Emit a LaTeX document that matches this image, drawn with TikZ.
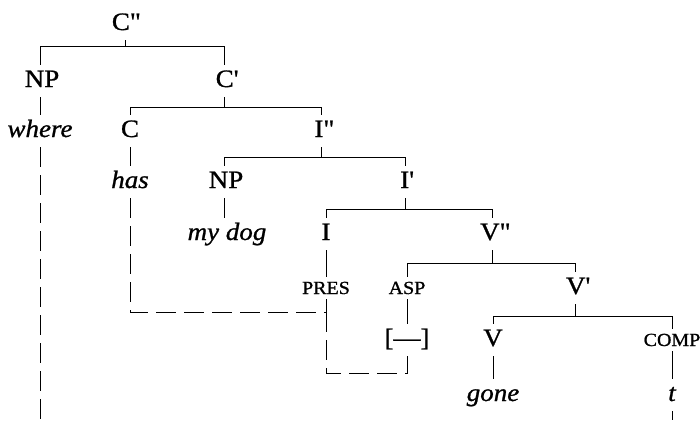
\documentclass[tikz,border=0pt]{standalone}
\usepackage{fontspec}
\setmainfont{Liberation Serif}[FakeBold=1,FakeStretch=1.08]
\begin{document}
\begin{tikzpicture}[x=1pt,y=-1pt,
  lab/.style={anchor=base,inner xsep=1pt,inner ysep=3pt,text height=19pt,text depth=7pt,font=\fontsize{25}{29}\selectfont},
  wrd/.style={lab,font=\fontsize{25}{29}\selectfont\itshape},
  sml/.style={anchor=base,inner xsep=1pt,inner ysep=2pt,text height=15pt,text depth=3pt,font=\fontsize{18.5}{22}\selectfont},
  edge/.style={line width=1pt},
  trace/.style={line width=1pt,dash pattern=on 20pt off 8pt}]
\useasboundingbox (0,0) rectangle (700,420);
\fill[white] (0,0) rectangle (700,420);
% nodes
\node[lab] (Cpp) at (126,30) {C\textquotedbl};
\node[lab] (NP1) at (42,87) {NP};
\node[lab] (Cp) at (227,87) {C\textquotesingle};
\node[wrd] (where) at (40,137) {where};
\node[lab] (C) at (130,137) {C};
\node[lab] (Ipp) at (324,137) {I\textquotedbl};
\node[wrd] (has) at (130,188) {has};
\node[lab] (NP2) at (226,188) {NP};
\node[lab] (Ip) at (407,188) {I\textquotesingle};
\node[wrd] (mydog) at (227,240) {my dog};
\node[lab] (I) at (326,240) {I};
\node[lab] (Vpp) at (495,240) {V\textquotedbl};
\node[sml] (PRES) at (326,294) {PRES};
\node[sml] (ASP) at (407,294) {ASP};
\node[lab] (Vp) at (578,294) {V\textquotesingle};
\node[lab] (brk) at (407,346) {[—]};
\node[lab] (V) at (493,346) {V};
\node[sml] (COMP) at (672,346) {COMP};
\node[wrd] (gone) at (493,401) {gone};
\node[wrd] (t) at (672,401) {t};
% bar coordinates
\coordinate (b1) at (0,47);
\coordinate (b2) at (0,107);
\coordinate (b3) at (0,157);
\coordinate (b4) at (0,209);
\coordinate (b5) at (0,263);
\coordinate (b6) at (0,316);
\coordinate (jh) at (0,312);
\coordinate (jb) at (0,373);
% branchings
\draw[edge] (Cpp.south -| 125,0) -- (125,47);
\draw[edge] (NP1.north -| 40,0) -- (40,47) -- (224,47) -- (Cp.north -| 224,0);
\draw[edge] (Cp.south -| 224,0) -- (224,107);
\draw[edge] (C.north) -- (C.north |- b2) -- (321,107) -- (Ipp.north -| 321,0);
\draw[edge] (Ipp.south -| 321,0) -- (321,157);
\draw[edge] (NP2.north -| 224,0) -- (224,157) -- (405,157) -- (Ip.north -| 405,0);
\draw[edge] (Ip.south -| 405,0) -- (405,209);
\draw[edge] (I.north) -- (I.north |- b4) -- (492,209) -- (Vpp.north -| 492,0);
\draw[edge] (Vpp.south -| 492,0) -- (492,263);
\draw[edge] (ASP.north) -- (ASP.north |- b5) -- (575,263) -- (Vp.north -| 575,0);
\draw[edge] (Vp.south -| 575,0) -- (575,316);
\draw[edge] (V.north) -- (V.north |- b6) -- (COMP.north |- b6) -- (COMP.north);
% unary
\draw[edge] (NP1.south -| 40,0) -- (where.north -| 40,0);
\draw[edge] (C.south) -- (has.north);
\draw[edge] (NP2.south -| 224,0) -- (mydog.north -| 224,0);
\draw[edge] (I.south) -- (PRES.north);
\draw[edge] (ASP.south) -- (brk.north);
\draw[edge] (V.south) -- (gone.north);
\draw[edge] (COMP.south) -- (t.north);
\draw[edge] (PRES.south) -- (PRES.south |- jh);
% traces
\draw[trace] (where.south -| 40,0) -- (40,420);
\draw[trace] (has.south) -- (has.south |- jh) -- (PRES.south |- jh);
\draw[trace] (PRES.south |- jh) -- (PRES.south |- jb) -- (brk.south |- jb) -- (brk.south);
\draw[trace] (t.south) -- (t.south |- 0,420);
\end{tikzpicture}
\end{document}
